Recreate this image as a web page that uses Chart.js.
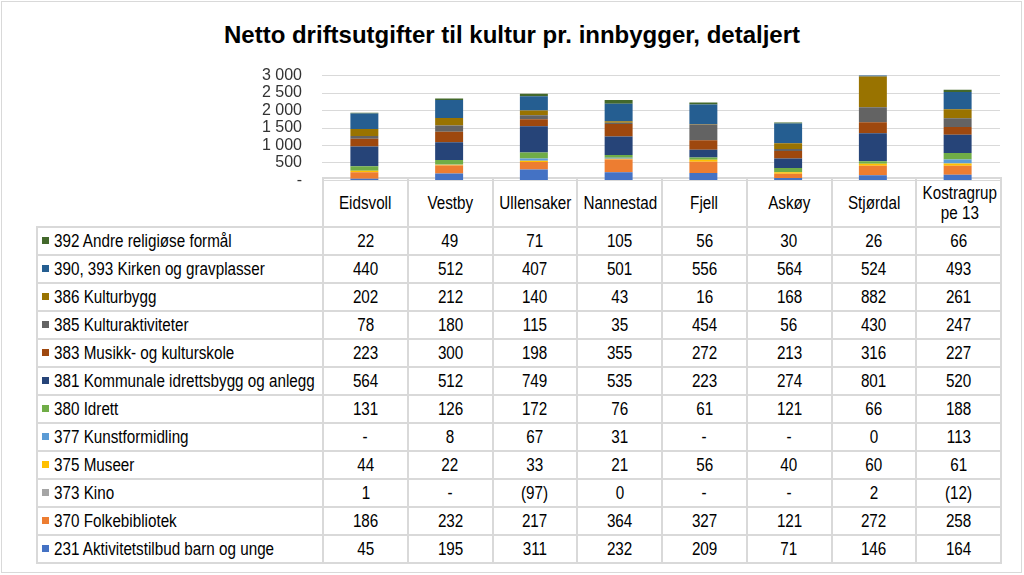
<!DOCTYPE html>
<html lang="no">
<head>
  <meta charset="UTF-8">
  <title>Netto driftsutgifter til kultur</title>
  <script src="https://cdn.jsdelivr.net/npm/chart.js"></script>
  <style>
    body { margin: 0; background: #fff; font-family: "Liberation Sans Narrow", "Arial Narrow", "Liberation Sans", sans-serif; }
    #frame { position: absolute; left: 1px; top: 1px; width: 1019px; height: 570px; border: 1px solid #d9d9d9; }
    #title { position: absolute; left: 0; top: 21px; width: 1024px; text-align: center;
      font-family: "Liberation Sans", Arial, sans-serif; font-weight: bold; font-size: 24px; color: #000; }
    #chartBox { position: absolute; left: 240px; top: 46px; width: 760px; height: 164px; }
    #tbl { position: absolute; left: 36px; top: 177px; width: 964px; border-collapse: collapse; table-layout: fixed;
      font-size: 17.5px; color: #000; }
    #tbl td { border: 2px solid #d9d9d9; text-align: center; height: 26px; padding: 0; line-height: 19px; overflow: visible; }
    #tbl td.lab { text-align: left; padding-left: 4px; white-space: nowrap; }
    #tbl tr.head td { height: 47px; line-height: 20px; }
    #tbl tr.head td.blank { border-top: none; border-left: none; }
    .t { display: inline-block; transform: scaleX(0.87); transform-origin: center; white-space: nowrap; }
    td.lab .t { transform-origin: left center; }
    .key { display: inline-block; width: 7px; height: 7px; margin-right: 5px; vertical-align: 3px; }
  </style>
</head>
<body>
  <div id="frame"></div>
  <div id="title">Netto driftsutgifter til kultur pr. innbygger, detaljert</div>
  <table id="tbl"></table>
  <div id="chartBox"><canvas id="kulturChart"></canvas></div>
  <script>
    const categories = ['Eidsvoll', 'Vestby', 'Ullensaker', 'Nannestad', 'Fjell', 'Askøy', 'Stjørdal', 'Kostragruppe 13'];

    // series, bottom of stack first ( null = "-" in the table )
    const s231 = [45, 195, 311, 232, 209, 71, 146, 164];
    const s370 = [186, 232, 217, 364, 327, 121, 272, 258];
    const s373 = [1, null, -97, 0, null, null, 2, -12];
    const s375 = [44, 22, 33, 21, 56, 40, 60, 61];
    const s377 = [null, 8, 67, 31, null, null, 0, 113];
    const s380 = [131, 126, 172, 76, 61, 121, 66, 188];
    const s381 = [564, 512, 749, 535, 223, 274, 801, 520];
    const s383 = [223, 300, 198, 355, 272, 213, 316, 227];
    const s385 = [78, 180, 115, 35, 454, 56, 430, 247];
    const s386 = [202, 212, 140, 43, 16, 168, 882, 261];
    const s390 = [440, 512, 407, 501, 556, 564, 524, 493];
    const s392 = [22, 49, 71, 105, 56, 30, 26, 66];

    const yTicks = [0, 500, 1000, 1500, 2000, 2500, 3000];

    const series = [
      { label: '231 Aktivitetstilbud barn og unge', data: s231, color: '#4472C4' },
      { label: '370 Folkebibliotek', data: s370, color: '#ED7D31' },
      { label: '373 Kino', data: s373, color: '#A5A5A5' },
      { label: '375 Museer', data: s375, color: '#FFC000' },
      { label: '377 Kunstformidling', data: s377, color: '#5B9BD5' },
      { label: '380 Idrett', data: s380, color: '#70AD47' },
      { label: '381 Kommunale idrettsbygg og anlegg', data: s381, color: '#264478' },
      { label: '383 Musikk- og kulturskole', data: s383, color: '#9E480E' },
      { label: '385 Kulturaktiviteter', data: s385, color: '#636363' },
      { label: '386 Kulturbygg', data: s386, color: '#997300' },
      { label: '390, 393 Kirken og gravplasser', data: s390, color: '#255E91' },
      { label: '392 Andre religiøse formål', data: s392, color: '#43682B' }
    ];

    function fmtNum(v) {
      return String(Math.abs(v)).replace(/\B(?=(\d{3})+(?!\d))/g, ' ');
    }
    function fmtCell(v) {
      if (v === null) return '-';
      if (v < 0) return '(' + fmtNum(v) + ')';
      return fmtNum(v);
    }

    // data table under the chart
    const tbl = document.getElementById('tbl');
    let html = '<colgroup><col style="width:286px">' + categories.map(() => '<col style="width:84.75px">').join('') + '</colgroup>';
    html += '<tr class="head"><td class="blank"></td>';
    categories.forEach(c => {
      html += '<td><span class="t">' + c.replace('Kostragruppe', 'Kostragrup<br>pe') + '</span></td>';
    });
    html += '</tr>';
    series.slice().reverse().forEach(s => {
      html += '<tr><td class="lab"><span class="key" style="background:' + s.color + '"></span><span class="t">' + s.label + '</span></td>';
      s.data.forEach(v => { html += '<td><span class="t">' + fmtCell(v) + '</span></td>'; });
      html += '</tr>';
    });
    tbl.innerHTML = html;

    const ctx = document.getElementById('kulturChart').getContext('2d');
    new Chart(ctx, {
      type: 'bar',
      data: {
        labels: categories,
        datasets: series.map(s => ({
          label: s.label,
          data: s.data,
          backgroundColor: s.color,
          borderWidth: 0,
          categoryPercentage: 1,
          barPercentage: 0.33
        }))
      },
      options: {
        responsive: true,
        maintainAspectRatio: false,
        animation: false,
        layout: { padding: 0 },
        plugins: {
          legend: { display: false },
          tooltip: { enabled: false }
        },
        scales: {
          x: {
            stacked: true,
            display: false
          },
          y: {
            stacked: true,
            min: 0,
            max: 3000,
            afterBuildTicks: axis => { axis.ticks = yTicks.map(v => ({ value: v })); },
            afterFit: axis => { axis.width = 82; },
            border: { display: false },
            grid: { color: '#d9d9d9', drawTicks: false },
            ticks: {
              autoSkip: false,
              padding: 20,
              color: '#333',
              font: { family: '"Liberation Sans Narrow", "Arial Narrow", sans-serif', size: 16 },
              callback: v => v === 0 ? '-' : fmtNum(v)
            }
          }
        }
      }
    });
  </script>
</body>
</html>
